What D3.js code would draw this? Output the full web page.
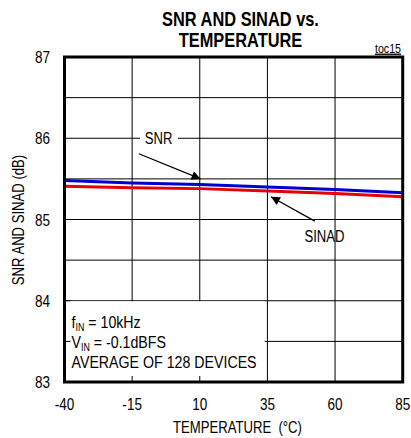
<!DOCTYPE html>
<html><head><meta charset="utf-8">
<script src="https://cdn.jsdelivr.net/npm/d3@7"></script>
<style>
html,body{margin:0;padding:0;background:#fff;}
text{font-family:"Liberation Sans",Arial,sans-serif;fill:#000;}
</style></head>
<body><svg id="c" width="411" height="438"></svg>
<script>
const temps = [-40, -15, 10, 35, 60, 85];
const snr   = [85.48, 85.45, 85.43, 85.40, 85.37, 85.33];
const sinad = [85.41, 85.39, 85.38, 85.35, 85.32, 85.28];
const xTicks = [-40, -15, 10, 35, 60, 85];
const yTicks = [83, 84, 85, 86, 87];
const yMinor = [83.5, 84.5, 85.5, 86.5];
const titleLines = ["SNR AND SINAD vs.", "TEMPERATURE"];
const condLines = [["f","IN"," = 10kHz"],["V","IN"," = -0.1dBFS"],["AVERAGE OF 128 DEVICES","",""]];

const SX = 0.82; // narrow font emulation
const svg = d3.select("#c");
const L = 64.5, R = 402.7, T = 57, B = 382;
const x = d3.scaleLinear().domain([-40, 85]).range([L, R]);
const y = d3.scaleLinear().domain([83, 87]).range([B, T]);

function txt(parent, px, py, str, size, anchor, extra, sx) {
  const gg = parent.append("g").attr("transform", `translate(${px},${py})${extra||""} scale(${sx||SX},1)`);
  return gg.append("text").attr("x",0).attr("y",0).attr("text-anchor", anchor||"start")
    .attr("font-size", size).text(str);
}

// gridlines
const g = svg.append("g");
g.selectAll("line.h").data(yTicks.concat(yMinor)).enter().append("line")
  .attr("x1", L).attr("x2", R).attr("y1", d=>y(d)).attr("y2", d=>y(d))
  .attr("stroke","#000").attr("stroke-width",1);
g.selectAll("line.v").data(xTicks).enter().append("line")
  .attr("y1", T).attr("y2", B).attr("x1", d=>x(d)).attr("x2", d=>x(d))
  .attr("stroke","#000").attr("stroke-width",1);

// white condition box
svg.append("rect").attr("x", L).attr("y", y(84)+0.5).attr("width", x(34)-L).attr("height", B-y(84))
  .attr("fill","#fff");
svg.selectAll("line.bt").data(xTicks.filter(d=>d>-40 && d<35)).enter().append("line")
  .attr("x1", d=>x(d)).attr("x2", d=>x(d)).attr("y1", B).attr("y2", B-6)
  .attr("stroke","#000").attr("stroke-width",1);
svg.selectAll("line.lt").data([84, 83.5]).enter().append("line")
  .attr("x1", L).attr("x2", L+6).attr("y1", d=>y(d)).attr("y2", d=>y(d))
  .attr("stroke","#000").attr("stroke-width",1);

// condition text
condLines.forEach((d,i)=>{
  const t = txt(svg, 71.5, 327.5 + i*20, "", 16.8, "start", "", 0.845);
  t.append("tspan").text(d[0]);
  if (d[1]) {
    t.append("tspan").attr("font-size",10.5).attr("dy",3).text(d[1]);
    t.append("tspan").attr("dy",-3).text(d[2]);
  }
});

// data lines
const line = d3.line().x((d,i)=>x(temps[i])).y(d=>y(d));
svg.append("path").attr("d", line(sinad)).attr("fill","none").attr("stroke","#e80000").attr("stroke-width",3);
svg.append("path").attr("d", line(snr)).attr("fill","none").attr("stroke","#0000d0").attr("stroke-width",3);

// border
svg.append("rect").attr("x",L).attr("y",T).attr("width",R-L).attr("height",B-T)
  .attr("fill","none").attr("stroke","#000").attr("stroke-width",3);

// title
titleLines.forEach((d,i)=>{
  txt(svg, 240.5, 25.5 + i*21.8, d, 20, "middle").attr("font-weight","bold");
});
txt(svg, 401, 52.5, "toc15", 13, "end").attr("text-decoration","underline");

// axes labels
yTicks.forEach(d=>txt(svg, 42.5, y(d)+6, String(d), 16.5, "middle"));
xTicks.forEach(d=>txt(svg, x(d), 410, String(d), 16.5, "middle"));
txt(svg, 237.5, 433, "TEMPERATURE  (°C)", 16, "middle").attr("xml:space","preserve");
txt(svg, 24, 220, "SNR AND SINAD (dB)", 16, "middle", " rotate(-90)");

// annotations
const defs = svg.append("defs");
defs.append("marker").attr("id","ah").attr("viewBox","0 0 10 10").attr("refX",10).attr("refY",5)
  .attr("markerWidth",13).attr("markerHeight",9).attr("markerUnits","userSpaceOnUse").attr("orient","auto")
  .append("path").attr("d","M0,0 L10,5 L0,10 z").attr("fill","#000");

svg.append("rect").attr("x",140).attr("y",y(86)-9).attr("width",38).attr("height",18).attr("fill","#fff");
txt(svg, 158.5, y(86)+6, "SNR", 16, "middle");
svg.append("line").attr("x1",x(-12.5)).attr("y1",y(85.81)).attr("x2",x(10.3)).attr("y2",y(85.50))
  .attr("stroke","#000").attr("stroke-width",1.2).attr("marker-end","url(#ah)");

txt(svg, 324.5, 242, "SINAD", 16, "middle");
svg.append("line").attr("x1",x(52.5)).attr("y1",y(84.98)).attr("x2",x(36.3)).attr("y2",y(85.28))
  .attr("stroke","#000").attr("stroke-width",1.2).attr("marker-end","url(#ah)");
</script></body></html>
